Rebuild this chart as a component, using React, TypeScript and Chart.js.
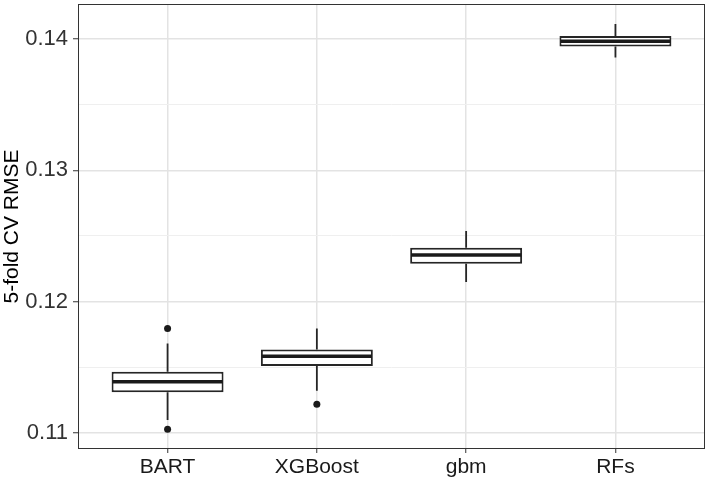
import React, { useEffect, useRef } from "react";
import { Chart, registerables } from "chart.js";

Chart.register(...registerables);

const categories = ["BART", "XGBoost", "gbm", "RFs"];
const q1 = [0.1131, 0.11509, 0.12289, 0.13942];
const medians = [0.1139, 0.11585, 0.12355, 0.13983];
const q3 = [0.11466, 0.11636, 0.12411, 0.14023];
const whiskerLow = [0.11099, 0.11322, 0.1215, 0.13858];
const whiskerHigh = [0.11682, 0.11796, 0.12537, 0.14114];
const outlierCategory = [0, 0, 1];
const outlierValue = [0.11796, 0.11029, 0.11219];
const yMajorTicks = [0.11, 0.12, 0.13, 0.14];
const yMinorTicks = [0.115, 0.125, 0.135];
const yMin = 0.10878;
const yMax = 0.14266;
const yTitle = "5-fold CV RMSE";

const FONT = "'Liberation Sans', Arial, Helvetica, sans-serif";

const isMajor = (v: number) => yMajorTicks.some((m) => Math.abs(m - v) < 1e-9);

const boxPlugin = {
  id: "boxExtras",
  afterDatasetsDraw(chart: any) {
    const { ctx, scales } = chart;
    const xs = scales.x;
    const ys = scales.y;
    const meta = chart.getDatasetMeta(0);
    ctx.save();
    categories.forEach((_, i) => {
      const cx = xs.getPixelForValue(i);
      ctx.strokeStyle = "#262626";
      ctx.lineWidth = 1.8;
      ctx.beginPath();
      ctx.moveTo(cx, ys.getPixelForValue(q3[i]));
      ctx.lineTo(cx, ys.getPixelForValue(whiskerHigh[i]));
      ctx.moveTo(cx, ys.getPixelForValue(q1[i]));
      ctx.lineTo(cx, ys.getPixelForValue(whiskerLow[i]));
      ctx.stroke();
      const el = meta.data[i];
      const half = el.width / 2;
      ctx.strokeStyle = "#1a1a1a";
      ctx.lineWidth = 3.5;
      const my = ys.getPixelForValue(medians[i]);
      ctx.beginPath();
      ctx.moveTo(el.x - half + 1, my);
      ctx.lineTo(el.x + half - 1, my);
      ctx.stroke();
    });
    ctx.restore();
  },
  afterDraw(chart: any) {
    const { ctx, chartArea } = chart;
    ctx.save();
    ctx.strokeStyle = "#333333";
    ctx.lineWidth = 1;
    ctx.strokeRect(
      chartArea.left + 0.5,
      chartArea.top + 0.5,
      chartArea.right - chartArea.left - 1,
      chartArea.bottom - chartArea.top - 1
    );
    ctx.restore();
  },
};

export default function App() {
  const ref = useRef<HTMLCanvasElement | null>(null);
  useEffect(() => {
    if (!ref.current) return;
    const chart = new Chart(ref.current, {
      type: "bar",
      data: {
        datasets: [
          {
            type: "bar",
            data: categories.map((_, i) => ({ x: i, y: [q1[i], q3[i]] })) as any,
            backgroundColor: "#ffffff",
            borderColor: "#262626",
            borderWidth: 2,
            borderSkipped: false,
            barPercentage: 0.75,
            categoryPercentage: 1,
            order: 2,
          },
          {
            type: "line",
            data: outlierValue.map((v, i) => ({ x: outlierCategory[i], y: v })),
            showLine: false,
            pointRadius: 3.5,
            pointBackgroundColor: "#1a1a1a",
            pointBorderWidth: 0,
            borderColor: "#1a1a1a",
            order: 1,
          } as any,
        ],
      },
      options: {
        animation: false,
        responsive: false,
        layout: { padding: { left: 0, top: 3, right: 2, bottom: 0 } },
        plugins: { legend: { display: false }, tooltip: { enabled: false } },
        scales: {
          x: {
            type: "linear",
            offset: false,
            min: -0.6,
            max: categories.length - 1 + 0.6,
            afterBuildTicks: (scale: any) => {
              scale.ticks = categories.map((_, i) => ({ value: i }));
            },
            afterFit: (scale: any) => {
              scale.height = 29;
              scale.paddingLeft = 0;
              scale.paddingRight = 0;
            },
            border: { display: false },
            grid: {
              offset: false,
              color: "#E3E3E3",
              lineWidth: 1.5,
              drawTicks: true,
              tickLength: 4,
              tickColor: "#333333",
              tickWidth: 1,
            },
            ticks: {
              autoSkip: false,
              maxRotation: 0,
              padding: 2,
              color: "#1a1a1a",
              font: { family: FONT, size: 21 },
              callback: (v: any) => categories[Math.round(Number(v))] ?? "",
            },
          },
          y: {
            type: "linear",
            min: yMin,
            max: yMax,
            afterBuildTicks: (scale: any) => {
              scale.ticks = [...yMajorTicks, ...yMinorTicks]
                .sort((a, b) => a - b)
                .map((v) => ({ value: v }));
            },
            afterFit: (scale: any) => {
              scale.width = 78;
              scale.paddingTop = 0;
              scale.paddingBottom = 0;
            },
            border: { display: false },
            grid: {
              color: (c: any) => (c.tick && isMajor(c.tick.value) ? "#E3E3E3" : "#EFEFEF"),
              lineWidth: (c: any) => (c.tick && isMajor(c.tick.value) ? 1.5 : 1),
              drawTicks: true,
              tickLength: 5,
              tickColor: (c: any) => (c.tick && isMajor(c.tick.value) ? "#333333" : "rgba(0,0,0,0)"),
              tickWidth: 1,
            },
            ticks: {
              autoSkip: false,
              padding: 5,
              color: "#333333",
              font: { family: FONT, size: 22 },
              callback: (v: any) => (isMajor(Number(v)) ? Number(v).toFixed(2) : ""),
            },
            title: {
              display: true,
              text: yTitle,
              color: "#000000",
              font: { family: FONT, size: 21 },
              padding: { top: 0, bottom: 0 },
            },
          },
        },
      },
      plugins: [boxPlugin],
    });
    return () => chart.destroy();
  }, []);
  return (
    <div style={{ position: "fixed", left: 0, top: 0, width: 709, height: 478 }}>
      <canvas ref={ref} width={709} height={478} style={{ width: 709, height: 478 }} />
    </div>
  );
}
